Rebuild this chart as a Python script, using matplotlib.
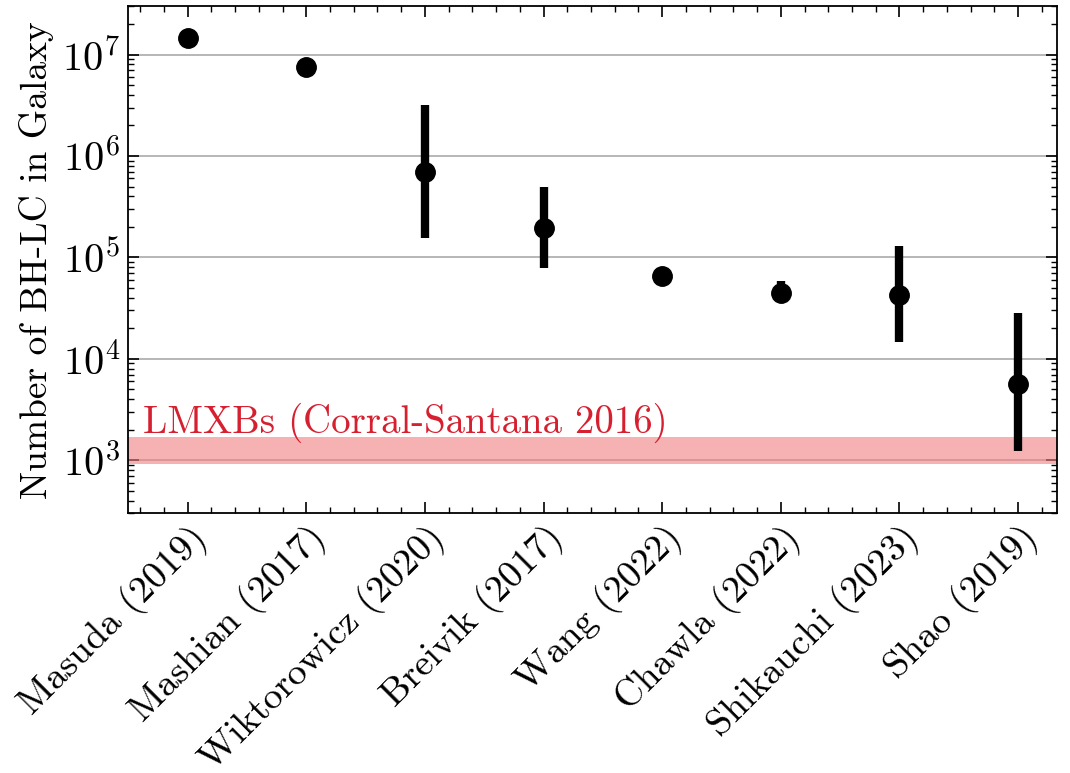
import numpy as np
import matplotlib.pyplot as plt
from matplotlib.ticker import AutoMinorLocator, LogLocator, NullFormatter

plt.rcParams['font.family'] = 'serif'
plt.rcParams['font.serif'] = ['cmr10']
plt.rcParams['mathtext.fontset'] = 'cm'
plt.rcParams['axes.formatter.use_mathtext'] = True
plt.rcParams['font.size'] = 27

# Estimates of the number of BH-LC in the Galaxy
studies = ['Masuda (2019)', 'Mashian (2017)', 'Wiktorowicz (2020)', 'Breivik (2017)',
           'Wang (2022)', 'Chawla (2022)', 'Shikauchi (2023)', 'Shao (2019)']
n_bhlc = [1.47e7, 7.6e6, 6.9e5, 1.93e5, 6.6e4, 4.5e4, 4.3e4, 5.7e3]
n_low = [1.47e7, 7.6e6, 1.55e5, 7.8e4, 6.6e4, 4.2e4, 1.45e4, 1.23e3]
n_high = [1.47e7, 7.6e6, 3.2e6, 4.9e5, 6.6e4, 5.9e4, 1.3e5, 2.8e4]

# LMXB population range
lmxb_low, lmxb_high = 920, 1690

x = np.arange(len(studies))
yerr = [np.array(n_bhlc) - np.array(n_low), np.array(n_high) - np.array(n_bhlc)]

fig, ax = plt.subplots(figsize=(10.7, 7.73), dpi=100)
fig.subplots_adjust(left=0.12, right=0.988, top=0.992, bottom=0.336)

ax.axhspan(lmxb_low, lmxb_high, color='#f08080', alpha=0.6, lw=0, zorder=1)
ax.text(-0.38, 1880, 'LMXBs (Corral-Santana 2016)', color='#d62030',
        fontsize=28, va='baseline')

ax.errorbar(x, n_bhlc, yerr=yerr, fmt='o', color='black', ms=14,
            elinewidth=6, capsize=0, zorder=3)

ax.set_yscale('log')
ax.set_ylim(300, 3e7)
ax.set_xlim(-0.5, 7.33)
ax.set_xticks(x)
ax.set_xticklabels(studies, rotation=45, ha='right', rotation_mode='anchor',
                   fontsize=27.5)
ax.xaxis.set_minor_locator(AutoMinorLocator(5))
ax.yaxis.set_minor_locator(LogLocator(base=10, subs=np.arange(2, 10)))
ax.yaxis.set_minor_formatter(NullFormatter())
ax.tick_params(axis='y', labelsize=29)
ax.set_ylabel('Number of BH-LC in Galaxy', labelpad=6)
ax.grid(axis='y', which='major', color='#aaaaaa', lw=1.2)
ax.set_axisbelow(True)

ax.tick_params(which='both', direction='in', top=True, right=True)
ax.tick_params(which='major', length=8, width=1.2, pad=6)
ax.tick_params(axis='x', which='major', pad=4)
ax.tick_params(which='minor', length=4, width=1)
for s in ax.spines.values():
    s.set_linewidth(1.3)

fig.savefig('out.png', dpi=100)
